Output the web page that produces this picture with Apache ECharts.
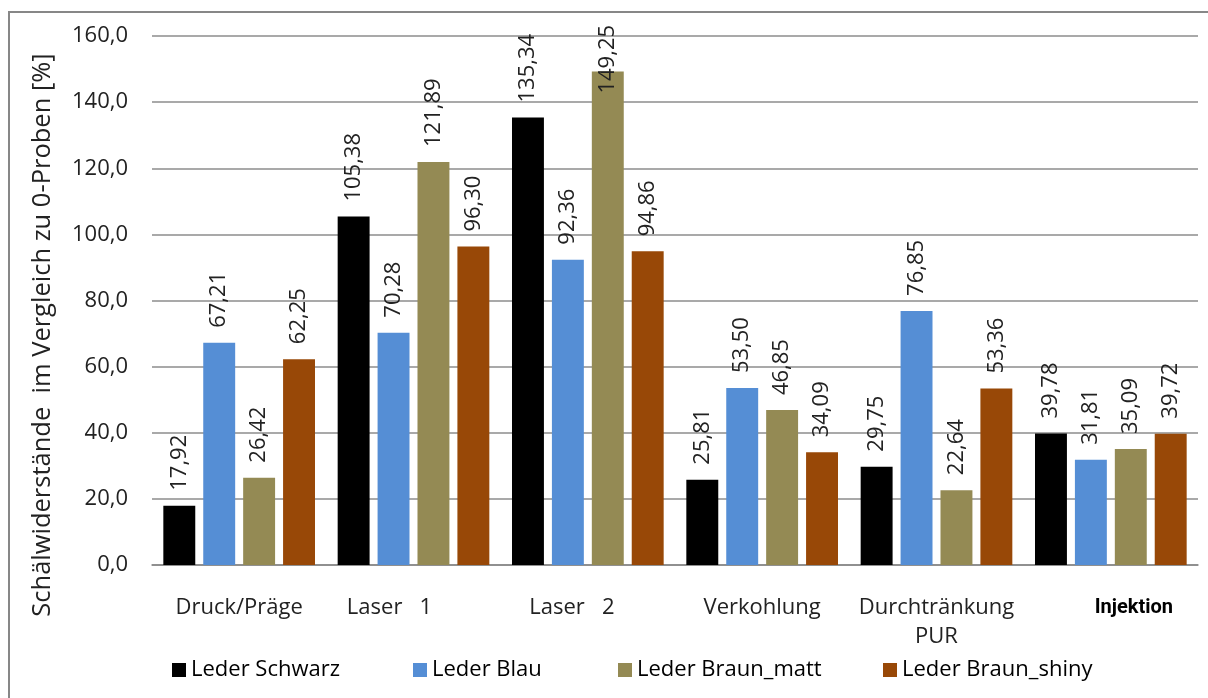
<!DOCTYPE html>
<html>
<head>
<meta charset="utf-8">
<script src="https://cdn.jsdelivr.net/npm/echarts@6/dist/echarts.min.js"></script>
<style>
  html, body { margin: 0; padding: 0; background: #ffffff; }
  #chart { width: 1208px; height: 698px; }
</style>
</head>
<body>
<div id="chart"></div>
<script>
// Peel resistance relative to untreated samples, per surface treatment
const categories = ['Druck/Präge', 'Laser   1', 'Laser   2', 'Verkohlung', 'Durchtränkung\nPUR', 'Injektion'];
const seriesNames = ['Leder Schwarz', 'Leder Blau', 'Leder Braun_matt', 'Leder Braun_shiny'];
const lederSchwarz   = [17.92, 105.38, 135.34, 25.81, 29.75, 39.78];
const lederBlau      = [67.21, 70.28, 92.36, 53.50, 76.85, 31.81];
const lederBraunMatt = [26.42, 121.89, 149.25, 46.85, 22.64, 35.09];
const lederBraunShiny= [62.25, 96.30, 94.86, 34.09, 53.36, 39.72];
const yTicks = [0, 20, 40, 60, 80, 100, 120, 140, 160];

const colors = ['#000000', '#558ed5', '#948a54', '#984807'];
const FONT = '"Open Sans", "DejaVu Sans", sans-serif';
const deComma = (v, d) => v.toFixed(d).replace('.', ',');

const seriesValues = [lederSchwarz, lederBlau, lederBraunMatt, lederBraunShiny];

// bars taller than this get their value label pulled down so it stays in the frame
const LABEL_FIT_LIMIT = 145;

// category label nudges (the axis text is not centred on every group)
const catStyle = {
  'Laser   1': { padding: [0, 48, 0, 0] },
  'Laser   2': { padding: [0, 32, 0, 0] },
  'Injektion': { padding: [0, 0, 0, 46], fontFamily: 'Roboto, sans-serif', fontWeight: 'bold', fontSize: 20, color: '#000' }
};

const chart = echarts.init(document.getElementById('chart'), null, { renderer: 'canvas' });

const series = seriesNames.map((name, si) => ({
  name: name,
  type: 'bar',
  barGap: '25%',
  barCategoryGap: '13%',
  itemStyle: { color: colors[si] },
  label: {
    show: true,
    position: 'top',
    rotate: 90,
    align: 'left',
    verticalAlign: 'middle',
    distance: 15,
    fontFamily: FONT,
    fontSize: 22,
    color: '#222',
    formatter: p => deComma(p.value, 2)
  },
  data: seriesValues[si].map(v =>
    v > LABEL_FIT_LIMIT ? { value: v, label: { distance: -22 } } : v
  )
}));

const legends = seriesNames.map((name, i) => ({
  data: [name],
  left: [167, 408, 613, 878][i],
  top: 652,
  icon: 'rect',
  itemWidth: 14,
  itemHeight: 14,
  selectedMode: false,
  textStyle: { fontFamily: FONT, fontSize: 22, color: '#000', lineHeight: 26 }
}));

chart.setOption({
  backgroundColor: '#ffffff',
  animation: false,
  color: colors,
  graphic: [{
    type: 'rect',
    shape: { x: 9, y: 12, width: 1240, height: 720 },
    style: { fill: 'none', stroke: '#878787', lineWidth: 2 },
    silent: true
  }],
  grid: { left: 152, right: 10, top: 36, bottom: 133, containLabel: false },
  legend: legends,
  xAxis: {
    type: 'category',
    data: categories.map(c => catStyle[c] ? { value: c, textStyle: catStyle[c] } : c),
    axisLine: { show: true, lineStyle: { color: '#888', width: 1.5 } },
    axisTick: { show: false },
    axisLabel: {
      interval: 0,
      margin: 28,
      fontFamily: FONT,
      fontSize: 22,
      lineHeight: 29,
      color: '#222'
    }
  },
  yAxis: {
    type: 'value',
    min: yTicks[0],
    max: yTicks[yTicks.length - 1],
    interval: yTicks[1] - yTicks[0],
    name: 'Schälwiderstände  im Vergleich zu 0-Proben [%]',
    nameLocation: 'middle',
    nameGap: 96,
    nameRotate: 90,
    nameTextStyle: {
      fontFamily: FONT,
      fontSize: 25.5,
      color: '#222',
      padding: [0, 69, 0, 0]
    },
    axisLine: { show: false },
    axisTick: { show: false },
    axisLabel: {
      margin: 24,
      fontFamily: FONT,
      fontSize: 22,
      color: '#222',
      formatter: v => deComma(v, 1)
    },
    splitLine: { show: true, lineStyle: { color: '#8c8c8c', width: 1.5 } }
  },
  series: series
});
</script>
</body>
</html>
